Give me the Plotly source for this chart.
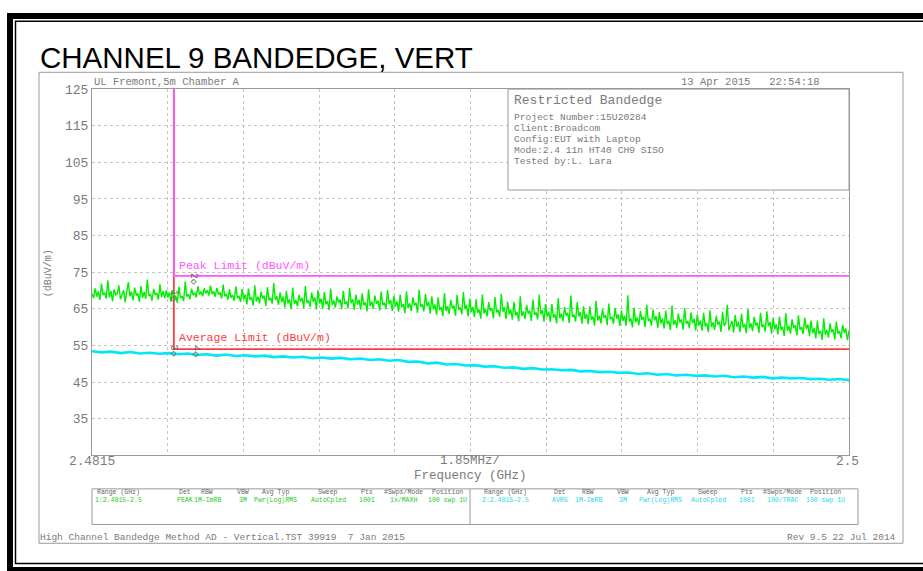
import numpy as np
import plotly.graph_objects as go

W, H = 923, 571

# ---------------- data ----------------
f_start, f_stop = 2.4815, 2.5          # GHz
band_edge = 2.4835                      # GHz
peak_limit = 74                         # dBuV/m
avg_limit = 54                          # dBuV/m
y_ticks = [35, 45, 55, 65, 75, 85, 95, 105, 115, 125]

peak_trace = [
    69.2, 67.9, 70.6, 68.3, 69.8, 67.4, 71.9, 68.7, 69.4, 67.8, 72.8, 68.1, 69.9, 67.0, 70.3, 68.8, 69.1, 71.4, 67.6, 68.9, 70.1, 66.8, 69.5, 72.3,
    68.4, 69.7, 67.3, 70.8, 68.6, 69.2, 66.9, 71.2, 68.0, 69.6, 67.7, 73.0, 68.5, 69.0, 67.2, 70.4, 68.8, 69.3, 67.5, 71.7, 68.2, 69.8, 67.9, 70.0,
    68.1, 69.5, 66.9, 70.2, 67.8, 68.6, 66.6, 71.0, 67.9, 68.4, 67.1, 72.4, 68.3, 69.0, 67.6, 70.5, 68.7, 69.4, 68.1, 71.2, 68.9, 69.7, 68.4, 70.6,
    69.2, 70.1, 68.6, 71.3, 69.0, 69.8, 68.3, 70.7, 68.9, 69.5, 67.8, 71.6, 68.4, 69.1, 67.5, 70.3, 68.0, 68.8, 67.2, 71.1, 67.9, 68.5, 66.9, 70.4,
    67.6, 68.9, 66.2, 70.5, 67.4, 68.2, 65.9, 71.4, 67.0, 68.3, 66.5, 69.7, 67.8, 68.6, 65.8, 70.9, 67.3, 68.0, 66.4, 72.0, 67.5, 68.4, 66.1, 69.5,
    66.8, 68.3, 65.4, 69.9, 66.5, 67.6, 64.9, 70.8, 66.3, 67.4, 65.7, 68.8, 67.0, 67.9, 65.2, 71.2, 66.6, 67.3, 65.5, 69.4, 66.9, 68.1, 64.8, 70.1,
    66.4, 67.8, 65.0, 69.6, 66.2, 67.1, 64.6, 70.5, 66.0, 67.3, 65.3, 68.4, 66.7, 67.5, 64.9, 69.9, 66.3, 67.0, 65.1, 70.7, 66.5, 67.6, 64.7, 68.9,
    66.1, 67.5, 64.8, 69.2, 65.9, 66.8, 64.3, 70.3, 65.7, 67.0, 65.0, 68.6, 66.4, 67.2, 64.5, 69.7, 66.0, 66.7, 64.9, 70.1, 66.2, 67.4, 64.4, 68.5,
    65.6, 67.0, 64.2, 68.9, 65.4, 66.3, 63.8, 69.8, 65.2, 66.5, 64.4, 68.1, 65.9, 66.7, 63.9, 70.2, 65.5, 66.2, 64.3, 69.0, 65.7, 66.9, 63.7, 68.4,
    64.8, 66.2, 63.4, 68.1, 64.6, 65.5, 63.0, 69.3, 64.4, 65.7, 63.6, 67.4, 65.1, 65.9, 63.1, 68.8, 64.7, 65.4, 63.5, 69.6, 64.9, 66.1, 62.9, 67.7,
    64.1, 65.5, 62.7, 67.6, 63.9, 64.8, 62.3, 68.9, 63.7, 65.0, 62.9, 66.8, 64.4, 65.2, 62.4, 68.2, 64.0, 64.7, 62.8, 69.1, 64.2, 65.4, 62.2, 67.0,
    63.4, 64.8, 62.0, 66.9, 63.2, 64.1, 61.6, 68.4, 63.0, 64.3, 62.2, 66.1, 63.7, 64.5, 61.7, 67.5, 63.3, 64.0, 62.1, 68.8, 63.5, 64.7, 61.5, 66.3,
    62.8, 64.2, 61.4, 66.3, 62.6, 63.5, 61.0, 67.9, 62.4, 63.7, 61.6, 65.5, 63.1, 63.9, 61.1, 68.6, 62.7, 63.4, 61.5, 66.8, 62.9, 64.1, 60.9, 65.7,
    62.2, 63.6, 60.8, 65.7, 62.0, 62.9, 60.4, 67.2, 61.8, 63.1, 61.0, 64.9, 62.5, 63.3, 60.5, 66.4, 62.1, 62.8, 60.9, 65.2, 62.3, 63.5, 60.3, 64.6,
    61.7, 63.1, 60.3, 68.7, 61.5, 62.4, 59.9, 65.3, 61.3, 62.6, 60.5, 64.4, 62.0, 62.8, 60.0, 66.1, 61.6, 62.3, 60.4, 64.8, 61.8, 63.0, 59.8, 64.1,
    61.0, 62.4, 59.6, 64.5, 60.8, 61.7, 59.2, 65.9, 60.6, 61.9, 59.8, 63.7, 61.3, 62.1, 59.3, 65.2, 60.9, 61.6, 59.7, 64.0, 61.1, 62.3, 59.1, 63.4,
    60.4, 61.8, 59.0, 63.9, 60.2, 61.1, 58.6, 64.6, 60.0, 61.3, 59.2, 63.1, 60.7, 61.5, 58.7, 64.2, 60.3, 61.0, 66.1, 59.1, 60.5, 61.7, 58.5, 63.3,
    60.1, 61.5, 58.7, 63.6, 59.9, 60.8, 58.3, 64.9, 59.7, 61.0, 58.9, 62.8, 60.4, 61.2, 58.4, 63.9, 60.0, 60.7, 58.8, 64.3, 60.2, 61.4, 58.2, 62.5,
    59.4, 60.8, 58.0, 62.9, 59.2, 60.1, 57.6, 63.8, 59.0, 60.3, 58.2, 62.1, 59.7, 60.5, 57.7, 63.2, 59.3, 60.0, 58.1, 62.6, 59.5, 60.7, 57.5, 61.8,
    58.3, 59.7, 56.9, 61.8, 58.1, 59.0, 56.5, 62.4, 57.9, 59.2, 57.1, 61.0, 58.6, 59.4, 56.6, 61.5, 58.2, 58.9, 57.0, 60.6, 58.4, 59.6, 56.4, 59.1,
]

avg_trace = [
    53.4, 53.1, 53.3, 52.9, 53.2, 52.8, 53.0, 52.7, 52.9,
    52.6, 52.8, 52.4, 52.6, 52.2, 52.5, 52.1, 52.3,
    52.0, 52.2, 51.8, 52.0, 51.7, 51.9, 51.5, 51.7, 51.4,
    51.6, 51.2, 51.4, 51.0, 51.2, 50.8, 51.0, 50.5,
    50.6, 50.1, 50.3, 49.8, 49.9, 49.5, 49.6,
    49.2, 49.3, 48.9, 49.0, 48.6, 48.8, 48.4, 48.5,
    48.2, 48.3, 47.9, 48.0, 47.7, 47.8, 47.5,
    47.6, 47.2, 47.4, 47.0, 47.2, 46.8, 47.0, 46.7, 46.8,
    46.5, 46.7, 46.3, 46.5, 46.2, 46.4, 46.0, 46.2,
    46.0, 46.1, 45.8, 45.9, 45.6, 45.8, 45.5,
]

markers_f = [2.4835, 2.48397, 2.4835, 2.48404]
markers_v = [68.6, 73.2, 53.6, 53.4]
markers_lbl = ["1", "2", "3", "4"]

legend_headers = ["Range (GHz)", "Det", "RBW", "VBW", "Avg Typ", "Sweep", "Pts", "#Swps/Mode", "Position"]
legend_row1 = ["1:2.4815-2.5", "PEAK", "1M-ImRB", "3M", "Pwr(Log)RMS", "AutoCpled", "1001", "1x/MAXH", "100 swp 1U"]
legend_row2 = ["2:2.4815-2.5", "AVRG", "1M-ImRB", "3M", "Pwr(Log)RMS", "AutoCpled", "1001", "100/TRAC", "100 swp 1U"]

info_lines = ["Project Number:15U20284", "Client:Broadcom", "Config:EUT with Laptop",
              "Mode:2.4 11n HT40 CH9 SISO", "Tested by:L. Lara"]

# ---------------- helpers ----------------
def px(x):
    return x / W

def py(y):
    return 1 - y / H

MONO = "Liberation Mono, DejaVu Sans Mono, monospace"
GRAY = "#7a7a7a"

f_peak = np.linspace(f_start, f_stop, len(peak_trace))
f_avg = np.linspace(f_start, f_stop, len(avg_trace))

fig = go.Figure()

# limit lines (average first, peak on top)
fig.add_trace(go.Scatter(x=[band_edge, band_edge, f_stop], y=[125, avg_limit, avg_limit],
                         mode="lines", line=dict(color="#ff3b3b", width=1.8), hoverinfo="skip"))
fig.add_trace(go.Scatter(x=[band_edge, band_edge, f_stop], y=[125, peak_limit, peak_limit],
                         mode="lines", line=dict(color="#ff55ff", width=1.8), hoverinfo="skip"))
# traces
fig.add_trace(go.Scatter(x=f_peak, y=peak_trace, mode="lines",
                         line=dict(color="#00ee00", width=1.4), hoverinfo="skip"))
fig.add_trace(go.Scatter(x=f_avg, y=avg_trace, mode="lines",
                         line=dict(color="#00e8f8", width=2.6), hoverinfo="skip"))

annotations = []
# markers
for f, v, l in zip(markers_f, markers_v, markers_lbl):
    annotations.append(dict(x=f, y=v, xref="x", yref="y", text=l + "\u25c7", showarrow=False,
                            textangle=90, font=dict(family=MONO, size=10, color="#666666")))

# limit labels
annotations.append(dict(x=px(177), y=py(262), xref="paper", yref="paper", text="Peak Limit (dBuV/m)",
                        showarrow=False, xanchor="left", yanchor="middle",
                        font=dict(family=MONO, size=11.5, color="#ff55ff")))
annotations.append(dict(x=px(177), y=py(335), xref="paper", yref="paper", text="Average Limit (dBuV/m)",
                        showarrow=False, xanchor="left", yanchor="middle",
                        font=dict(family=MONO, size=11.5, color="#ff3b3b")))

def txt(x, y, s, size, color=GRAY, xanchor="left", family=MONO, angle=0):
    annotations.append(dict(x=px(x), y=py(y), xref="paper", yref="paper", text=s, showarrow=False,
                            xanchor=xanchor, yanchor="middle", textangle=angle,
                            font=dict(family=family, size=size, color=color)))

# title
txt(38, 52, "CHANNEL 9 BANDEDGE, VERT", 29.5, color="#000000", family="Liberation Sans, Arial, sans-serif")
# header texts
txt(92, 77, "UL Fremont,5m Chamber A", 10.5)
txt(822, 77, "13 Apr 2015   22:54:18", 10.5, xanchor="right")
# info box
txt(512, 96, "Restricted Bandedge", 13)
for i, line in enumerate(info_lines):
    txt(512, 113 + i * 11, line, 9.6)
# y axis title
txt(48, 270, "(dBuV/m)", 10, angle=-90, xanchor="center")
# x axis texts
txt(67, 460, "2.4815", 12.8)
txt(861, 460, "2.5", 12.8, xanchor="right")
txt(470, 460, "1.85MHz/", 12.5, xanchor="center")
txt(470, 475, "Frequency (GHz)", 12.5, xanchor="center")
# footer
txt(38, 537, "High Channel Bandedge Method AD - Vertical.TST 39919  7 Jan 2015", 9.5)
txt(898, 537, "Rev 9.5 22 Jul 2014", 9.5, xanchor="right")

# legend box columns
left_cols = [118, 185, 207, 243, 275, 328, 367, 403, 447]
right_cols = [505, 560, 588, 623, 660, 708, 747, 782, 825]
for cols, row, col in ((left_cols, legend_row1, "#22cc22"), (right_cols, legend_row2, "#22d8e8")):
    for cx, h, v in zip(cols, legend_headers, row):
        txt(cx, 492, h, 6.5, color="#666666", xanchor="center")
        txt(cx, 500, v, 6.5, color=col, xanchor="center")

shapes = []
def rect(x0, y0, x1, y1, color, width, fill=None, layer="above"):
    shapes.append(dict(type="rect", xref="paper", yref="paper", x0=px(x0), x1=px(x1),
                       y0=py(y1), y1=py(y0), line=dict(color=color, width=width),
                       fillcolor=fill if fill else "rgba(0,0,0,0)", layer=layer))

# black page border (double), right side runs past the page edge
rect(10, 10, 940, 570, "#000000", 6)
rect(15.5, 15.5, 935, 563.5, "#000000", 1.5)
# gray inner frame
rect(39, 67, 903, 543, "#9a9a9a", 1)
# info box
rect(508, 84, 849, 186, "#9a9a9a", 1, fill="white")
# legend box
rect(92, 488, 858, 524, "#9a9a9a", 1)
shapes.append(dict(type="line", xref="paper", yref="paper", x0=px(470), x1=px(470),
                   y0=py(488), y1=py(524), line=dict(color="#9a9a9a", width=1)))

fig.update_layout(
    width=W, height=H,
    margin=dict(l=0, r=0, t=0, b=0),
    paper_bgcolor="white", plot_bgcolor="white",
    showlegend=False,
    annotations=annotations,
    shapes=shapes,
    xaxis=dict(domain=[px(92), px(849)], range=[f_start, f_stop], showticklabels=False,
               tickmode="linear", tick0=f_start, dtick=(f_stop - f_start) / 10,
               showgrid=True, gridcolor="#c4c4c4", griddash="dot", gridwidth=1,
               showline=True, linecolor="#999999", mirror=True, zeroline=False, ticks=""),
    yaxis=dict(domain=[py(454), py(84)], range=[25, 125], tickvals=y_ticks,
               showgrid=True, gridcolor="#c4c4c4", griddash="dot", gridwidth=1,
               showline=True, linecolor="#999999", mirror=True, zeroline=False, ticks="",
               tickfont=dict(family=MONO, size=13, color=GRAY)),
)

fig.write_html("out.html", config={"displayModeBar": False},
               post_script="document.body.style.margin='0';document.body.style.overflow='hidden';")
